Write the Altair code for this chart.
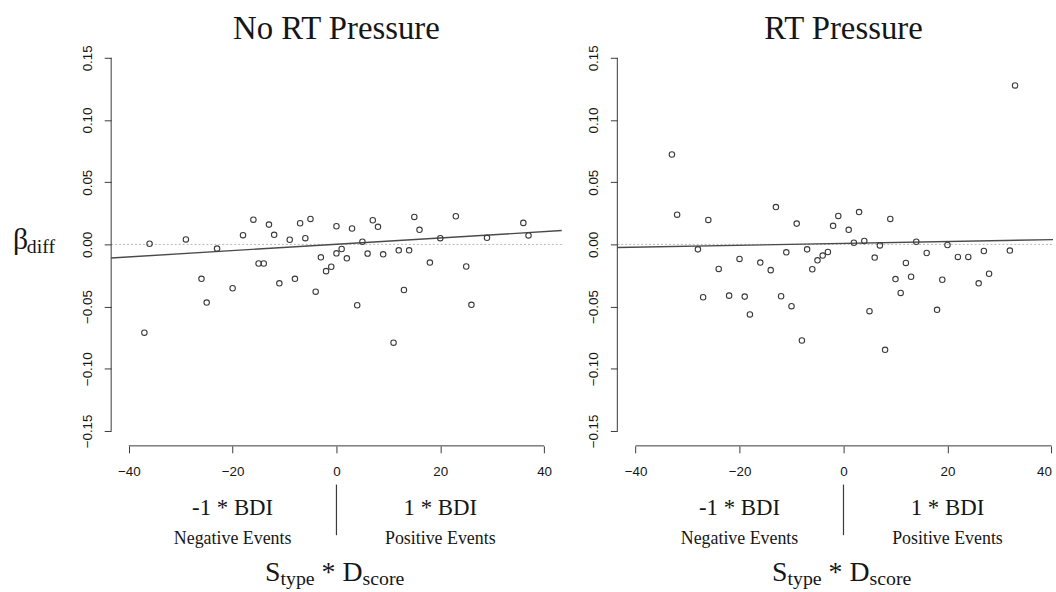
import altair as alt
import pandas as pd

# ---- data ----
left_x = [-36, -37, -29, -23, -26, -25, -20, -18, -16, -15, -14, -13, -12, -11, -9, -8,
          -7, -6, -5, -4, -3, -2, -1, 0, 0, 1, 2, 3, 4, 5, 6, 7, 8, 9, 11, 12, 13, 14,
          15, 16, 18, 20, 23, 25, 26, 29, 36, 37]
left_y = [0.0005, -0.071, 0.004, -0.0034, -0.0277, -0.0468, -0.0353, 0.0074, 0.0199,
          -0.0154, -0.0154, 0.0159, 0.0077, -0.0313, 0.0037, -0.0277, 0.017, 0.005,
          0.0205, -0.038, -0.0104, -0.0215, -0.018, 0.0146, -0.0072, -0.0037, -0.0112,
          0.0128, -0.0489, 0.0021, -0.0074, 0.0194, 0.0141, -0.008, -0.079, -0.0048,
          -0.0367, -0.0048, 0.0221, 0.0117, -0.0146, 0.005, 0.0226, -0.0178, -0.0486,
          0.0053, 0.0173, 0.0072]
right_x = [-33, -32, -28, -27, -26, -24, -22, -20, -19, -18, -16, -14, -13, -12, -11, -10,
           -9, -8, -7, -6, -5, -4, -3, -2, -1, 1, 2, 3, 4, 5, 6, 7, 8, 9, 10, 11, 12, 13,
           14, 16, 18, 19, 20, 22, 24, 26, 27, 28, 32, 33]
right_y = [0.0723, 0.0239, -0.004, -0.0425, 0.0197, -0.0197, -0.0412, -0.0117, -0.042,
           -0.0563, -0.0146, -0.0207, 0.03, -0.0417, -0.0064, -0.0497, 0.0167, -0.0773,
           -0.004, -0.02, -0.0128, -0.009, -0.0061, 0.0149, 0.0229, 0.0117, 0.0013, 0.026,
           0.0027, -0.0537, -0.0106, -0.0008, -0.0848, 0.0205, -0.0279, -0.039, -0.0149,
           -0.026, 0.0021, -0.0069, -0.0526, -0.0284, -0.0005, -0.0101, -0.0101, -0.0313,
           -0.0053, -0.0236, -0.005, 0.1278]
# fitted lines (intercept, slope)
left_fit = [0.0001, 0.000254]
right_fit = [0.0008, 0.0000752]
y_ticks = [-0.15, -0.10, -0.05, 0.0, 0.05, 0.10, 0.15]
x_ticks = [-40, -20, 0, 20, 40]
titles = ["No RT Pressure", "RT Pressure"]
side_labels = ["-1 * BDI", "1 * BDI"]
event_labels = ["Negative Events", "Positive Events"]

Y_DOM = [-0.162, 0.162]
H = 406
SERIF = "Liberation Serif"
SANS = "Liberation Sans"
INK = "#3a3a3a"
TXT = "#161616"


def one():
    return alt.Data(values=[{"k": 1}])


def panel(title, xs, ys, fit, x_dom, width, ylabel):
    df = pd.DataFrame({"x": xs, "y": ys})
    fit_df = pd.DataFrame({"x": x_dom, "y": [fit[0] + fit[1] * v for v in x_dom]})
    xsc = alt.Scale(domain=x_dom, nice=False, zero=False)
    ysc = alt.Scale(domain=Y_DOM, nice=False, zero=False)
    xax = alt.Axis(values=x_ticks, format="d", title=None, domain=False, grid=False,
                   tickSize=7, tickColor=INK, tickWidth=1, labelFont=SANS,
                   labelFontSize=13.5, labelColor=TXT, labelPadding=22.5,
                   labelBaseline="alphabetic", labelFlush=5)
    yax = alt.Axis(values=y_ticks, format=".2f", title=None, domain=False, grid=False,
                   tickSize=7, tickColor=INK, tickWidth=1, labelFont=SANS,
                   labelFontSize=13.5, labelColor=TXT, labelAngle=270,
                   labelAlign="center", labelBaseline="alphabetic", labelPadding=13.3)

    def X(d):
        return alt.XDatum(d, type="quantitative", scale=xsc, axis=xax)

    def Y(d):
        return alt.YDatum(d, type="quantitative", scale=ysc, axis=yax)

    layers = []
    # dotted zero reference
    layers.append(alt.Chart(one()).mark_rule(color="#b5b5b5", strokeWidth=1, strokeDash=[2, 2])
                  .encode(y=Y(0), x=alt.value(0), x2=alt.value(width)))
    # axis lines (R style, spanning first to last tick)
    layers.append(alt.Chart(one()).mark_rule(color=INK, strokeWidth=1)
                  .encode(x=alt.value(0), y=Y(-0.15), y2=alt.datum(0.15)))
    layers.append(alt.Chart(one()).mark_rule(color=INK, strokeWidth=1)
                  .encode(y=alt.value(H), x=X(-40), x2=alt.datum(40)))
    # fitted line
    layers.append(alt.Chart(fit_df).mark_line(color="#4a4a4a", strokeWidth=1.4)
                  .encode(x=alt.X("x:Q", scale=xsc, axis=xax), y=alt.Y("y:Q", scale=ysc, axis=yax)))
    # points
    layers.append(alt.Chart(df).mark_point(shape="circle", filled=False, size=30,
                                           strokeWidth=1.1, color=INK, opacity=1)
                  .encode(x=alt.X("x:Q", scale=xsc, axis=xax), y=alt.Y("y:Q", scale=ysc, axis=yax)))
    # title
    layers.append(alt.Chart(one()).mark_text(text=title, font=SERIF, fontSize=33,
                                             align="center", baseline="alphabetic", color=TXT)
                  .encode(x=X(0), y=alt.value(-4)))
    # annotations under the x axis
    for d, s, e in [(-20, side_labels[0], event_labels[0]), (20, side_labels[1], event_labels[1])]:
        layers.append(alt.Chart(one()).mark_text(text=s, font=SERIF, fontSize=23,
                                                 align="center", baseline="alphabetic", color=TXT)
                      .encode(x=X(d), y=alt.value(476)))
        layers.append(alt.Chart(one()).mark_text(text=e, font=SERIF, fontSize=18,
                                                 align="center", baseline="alphabetic", color=TXT)
                      .encode(x=X(d), y=alt.value(505)))
    layers.append(alt.Chart(one()).mark_rule(color=INK, strokeWidth=1.2)
                  .encode(x=X(0), y=alt.value(445), y2=alt.value(496)))
    # S_type * D_score
    for txt, fs, dx, yy in [("S", 28, -72, 542), ("type", 20, -56.4, 546.5),
                            ("* D", 28, -15, 542), ("score", 20, 26.2, 546.5)]:
        layers.append(alt.Chart(one()).mark_text(text=txt, font=SERIF, fontSize=fs, dx=dx,
                                                 align="left", baseline="alphabetic", color=TXT)
                      .encode(x=X(0), y=alt.value(yy)))
    if ylabel:
        layers.append(alt.Chart(one()).mark_text(text="β", font=SERIF, fontSize=30,
                                                 align="left", baseline="alphabetic", color=TXT)
                      .encode(x=alt.value(-99), y=alt.value(208)))
        layers.append(alt.Chart(one()).mark_text(text="diff", font=SERIF, fontSize=20,
                                                 align="left", baseline="alphabetic", color=TXT)
                      .encode(x=alt.value(-85), y=alt.value(212)))
    return alt.layer(*layers).properties(width=width, height=H)


left = panel(titles[0], left_x, left_y, left_fit, [-43.4, 43.4], 454, True)
right = panel(titles[1], right_x, right_y, right_fit, [-43.5, 40.3], 439, False)

chart = (alt.hconcat(left, right, spacing=21)
         .properties(padding={"left": 13, "top": 11, "right": 0, "bottom": 0},
                     background="white")
         .configure_view(strokeWidth=0))

chart.save("out.html", embed_options={"renderer": "svg", "actions": False})
